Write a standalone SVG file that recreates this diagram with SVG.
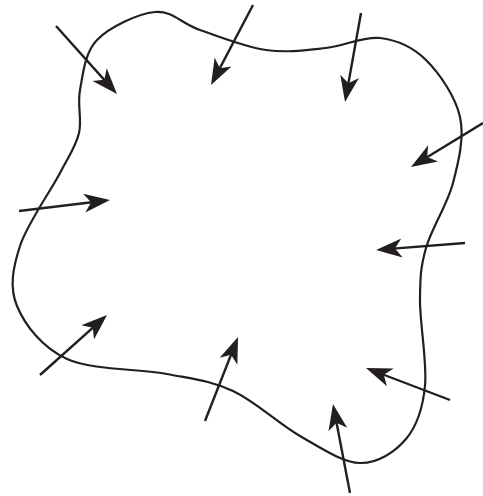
<svg xmlns="http://www.w3.org/2000/svg" width="483" height="496" viewBox="0 0 483 496">
<style>
.blob{fill:none;stroke:#231f20;stroke-width:2.2;stroke-linejoin:round}
.arr{stroke:#231f20;stroke-width:2.4;fill:none;marker-end:url(#head)}
</style>
<defs>
<marker id="head" markerUnits="userSpaceOnUse" orient="auto" refX="-14" refY="0" markerWidth="40" markerHeight="30" overflow="visible">
<path d="M0,0 L-26,-9.5 L-19,0 L-26,9.5 Z" fill="#231f20"/>
</marker>
</defs>
<rect width="483" height="496" fill="#fff"/>
<g id="boundary">
<path class="blob" d="M79,133 C82.3,119.2 77,105.5 80,90 C83,74.5 84.5,53 97,40 C109.5,27 137.8,13.7 155,12 C172.2,10.3 181.5,23.7 200,30 C218.5,36.3 245,47 266,50 C287,53 307,50 326,48 C345,46 363.3,36 380,38 C396.7,40 412.7,46.8 426,60 C439.3,73.2 455.5,96.5 460,117 C464.5,137.5 458.7,161.2 453,183 C447.3,204.8 431.5,228.5 426,248 C420.5,267.5 420.2,277 420,300 C419.8,323 427.3,362.8 425,386 C422.7,409.2 416.8,426.2 406,439 C395.2,451.8 377.7,463.5 360,463 C342.3,462.5 321.2,448 300,436 C278.8,424 255.2,401.3 233,391 C210.8,380.7 194.7,379.3 167,374 C139.3,368.7 92,370.3 67,359 C42,347.7 24.8,324.8 17,306 C9.2,287.2 12.8,268.2 20,246 C27.2,223.8 50.2,191.8 60,173 C69.8,154.2 75.7,146.8 79,133 Z"/>
</g>
<g id="arrows">
<line class="arr" x1="56" y1="26" x2="107.65" y2="83.58"/>
<line class="arr" x1="253" y1="5" x2="217.5" y2="72.6"/>
<line class="arr" x1="361" y1="13" x2="347.5" y2="88.2"/>
<line class="arr" x1="483" y1="123" x2="422.9" y2="159.7"/>
<line class="arr" x1="19" y1="211" x2="96.1" y2="201.7"/>
<line class="arr" x1="465" y1="243" x2="390" y2="248.9"/>
<line class="arr" x1="450" y1="400" x2="379.1" y2="373"/>
<line class="arr" x1="350" y1="493" x2="335.6" y2="417.8"/>
<line class="arr" x1="205" y1="421" x2="232.9" y2="350"/>
<line class="arr" x1="40" y1="375" x2="96.6" y2="324.3"/>
</g>
</svg>
